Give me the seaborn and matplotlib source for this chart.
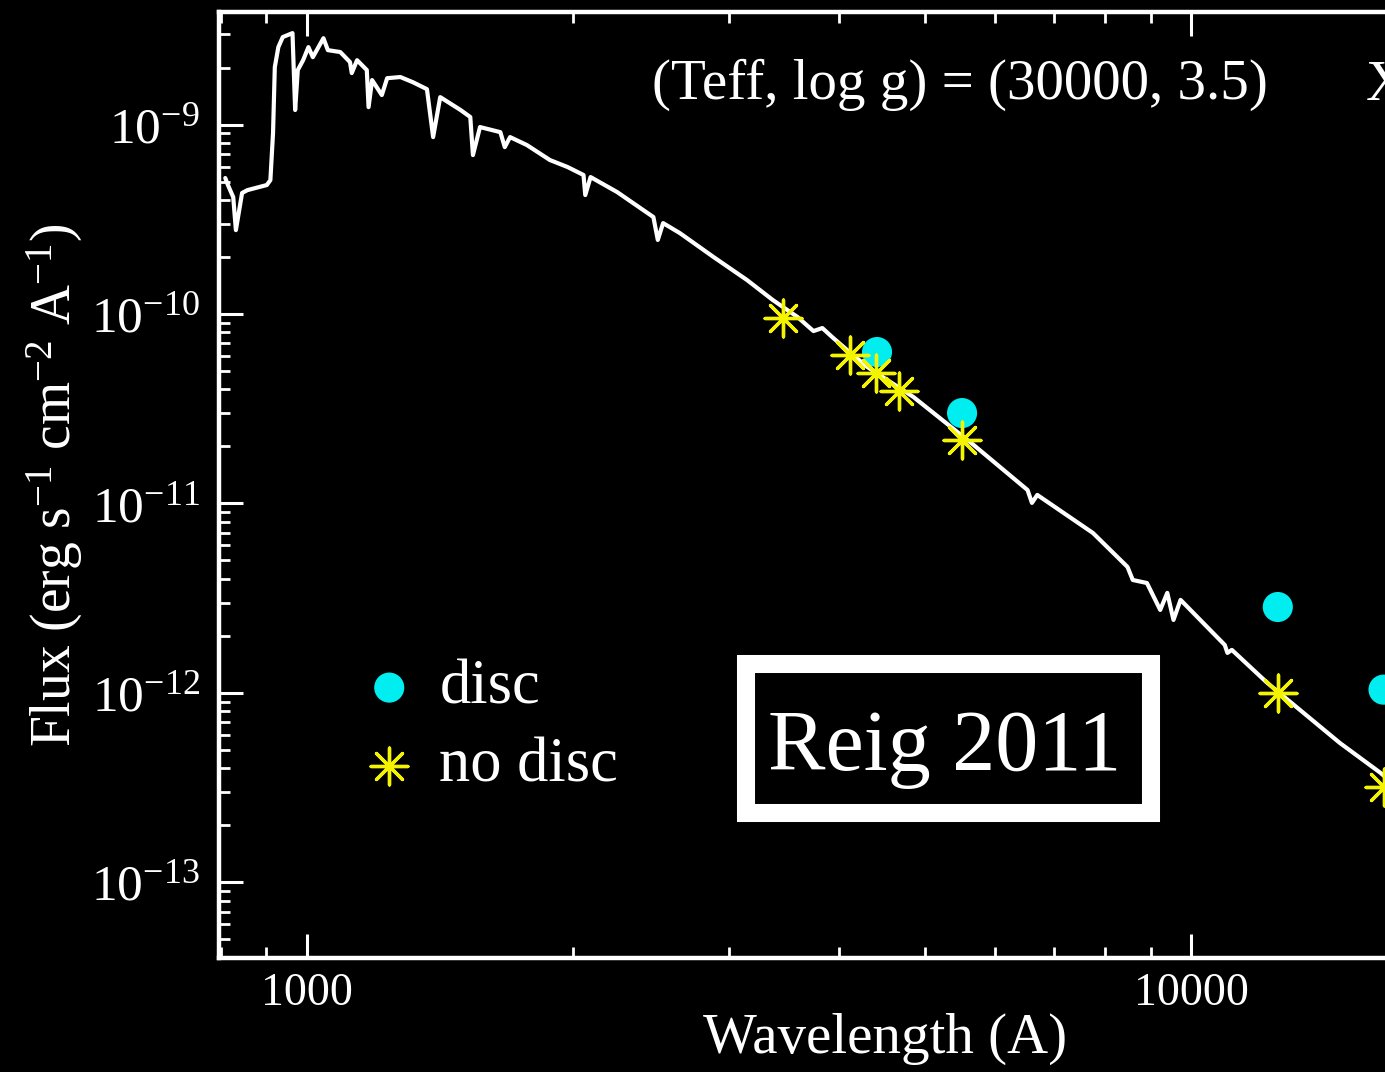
import numpy as np
import pandas as pd
import matplotlib
matplotlib.use("Agg")
import matplotlib.pyplot as plt
import seaborn as sns
from matplotlib.patches import Rectangle
from matplotlib.ticker import LogLocator, FixedLocator, FixedFormatter, NullFormatter

# Kurucz model atmosphere, Teff = 30000 K, log g = 3.5 (log10 wavelength [A], log10 flux)
model_log_wave = [2.908, 2.911, 2.917, 2.920, 2.927, 2.933, 2.955, 2.959, 2.962, 2.964,
                  2.968, 2.973, 2.984, 2.987, 2.990, 2.996, 3.002, 3.007, 3.019, 3.024,
                  3.038, 3.049, 3.051, 3.057, 3.068, 3.070, 3.074, 3.085, 3.091, 3.106,
                  3.120, 3.136, 3.143, 3.151, 3.174, 3.185, 3.188, 3.196, 3.219, 3.224,
                  3.230, 3.249, 3.275, 3.295, 3.313, 3.315, 3.321, 3.351, 3.369, 3.392,
                  3.397, 3.403, 3.422, 3.460, 3.498, 3.527, 3.555, 3.573, 3.583, 3.594,
                  3.611, 3.634, 3.686, 3.754, 3.815, 3.820, 3.826, 3.889, 3.928, 3.934,
                  3.950, 3.965, 3.973, 3.980, 3.988, 4.038, 4.041, 4.046, 4.086, 4.123,
                  4.168, 4.214, 4.236]
model_log_flux = [-9.282, -9.319, -9.383, -9.557, -9.361, -9.346, -9.319, -9.293, -9.045, -8.697,
                  -8.591, -8.538, -8.517, -8.923, -8.712, -8.660, -8.591, -8.644, -8.544, -8.607,
                  -8.617, -8.670, -8.728, -8.660, -8.712, -8.908, -8.765, -8.844, -8.755, -8.749,
                  -8.776, -8.813, -9.066, -8.855, -8.923, -8.960, -9.161, -9.013, -9.040, -9.119,
                  -9.066, -9.108, -9.187, -9.224, -9.266, -9.372, -9.277, -9.356, -9.414, -9.488,
                  -9.609, -9.520, -9.573, -9.699, -9.821, -9.926, -10.016, -10.090, -10.074, -10.121,
                  -10.190, -10.280, -10.438, -10.691, -10.929, -10.997, -10.955, -11.156, -11.335, -11.404,
                  -11.420, -11.562, -11.472, -11.615, -11.509, -11.747, -11.789, -11.773, -11.947, -12.090,
                  -12.264, -12.422, -12.512]

# Photometry (wavelength [A], flux [erg s-1 cm-2 A-1])
disc_wave = [4414, 5508, 12530, 16500]
disc_flux = [6.3e-11, 3.0e-11, 2.84e-12, 1.04e-12]
nodisc_wave = [3457, 4117, 4404, 4677, 5508, 12530, 16500]
nodisc_flux = [9.5e-11, 6.1e-11, 4.9e-11, 3.9e-11, 2.17e-11, 1.0e-12, 3.2e-13]

x_ticks = [1000, 10000]
x_ticklabels = ["1000", "10000"]

model = pd.DataFrame({"wave": 10 ** np.array(model_log_wave),
                      "flux": 10 ** np.array(model_log_flux)})
disc = pd.DataFrame({"wave": disc_wave, "flux": disc_flux})
nodisc = pd.DataFrame({"wave": nodisc_wave, "flux": nodisc_flux})

sns.set_style("ticks")
plt.rcParams["font.family"] = ["Liberation Serif", "DejaVu Serif"]
plt.rcParams["mathtext.fontset"] = "custom"
plt.rcParams["mathtext.rm"] = "Liberation Serif"
plt.rcParams["mathtext.it"] = "Liberation Serif:italic"
plt.rcParams["mathtext.bf"] = "Liberation Serif:bold"

W, H = 1385, 1072
fig = plt.figure(figsize=(W / 100, H / 100), dpi=100, facecolor="black")
ax = fig.add_axes([219 / W, 1 - 957.7 / H, (1395 - 219) / W, (957.7 - 12) / H])
ax.set_facecolor("black")

sns.lineplot(data=model, x="wave", y="flux", ax=ax, color="white", lw=3.0,
             sort=False, estimator=None, zorder=2)
sns.scatterplot(data=disc, x="wave", y="flux", ax=ax, color="#00EEF0", s=470,
                edgecolor="none", marker="o", label="disc", zorder=3)
sns.scatterplot(data=nodisc, x="wave", y="flux", ax=ax, color="#F4F400", s=700,
                marker=(8, 2, 0), linewidth=2.4, label="no disc", zorder=4)

ax.set_xscale("log")
ax.set_yscale("log")
ax.set_xlim(796, 17000)
ax.set_ylim(4.0e-14, 3.93e-9)

ax.xaxis.set_major_locator(FixedLocator(x_ticks))
ax.xaxis.set_major_formatter(FixedFormatter(x_ticklabels))
ax.xaxis.set_minor_locator(LogLocator(base=10, subs=np.arange(2, 10)))
ax.xaxis.set_minor_formatter(NullFormatter())
ax.yaxis.set_major_locator(LogLocator(base=10, numticks=20))
ax.yaxis.set_minor_locator(LogLocator(base=10, subs=np.arange(2, 10), numticks=20))
ax.yaxis.set_minor_formatter(NullFormatter())

for sp in ax.spines.values():
    sp.set_color("white")
    sp.set_linewidth(3.2)
ax.tick_params(which="both", direction="in", color="white", labelcolor="white",
               top=True, right=False)
ax.tick_params(which="major", length=17, width=2.2)
ax.tick_params(which="minor", length=8, width=2.0)
ax.tick_params(axis="x", which="major", labelsize=33, pad=11)
ax.tick_params(axis="y", which="major", labelsize=37, pad=14)

ax.set_xlabel("Wavelength (A)", color="white", fontsize=41)
ax.set_ylabel(r"Flux (erg s$^{-1}$ cm$^{-2}$ A$^{-1}$)", color="white", fontsize=40)
ax.xaxis.set_label_coords(0.566, -0.058)
ax.yaxis.set_label_coords(-0.114, 0.50)

ax.text(0.368, 0.9228, "(Teff, log g) = (30000, 3.5)", transform=ax.transAxes,
        color="white", fontsize=41, va="center", ha="left")
ax.text(0.975, 0.9228, "X Per", transform=ax.transAxes,
        color="white", fontsize=41, va="center", ha="left")

leg = ax.legend(loc="center left",
                bbox_to_anchor=((358 - 219) / 1176, (957.7 - 728) / 945.7),
                frameon=False, fontsize=45, handlelength=1.0, handletextpad=0.3,
                borderpad=0, borderaxespad=0, labelspacing=0.32, labelcolor="white")

# citation box
fig.add_artist(Rectangle((746 / W, 1 - 813 / H), (1151 - 746) / W, (813 - 664) / H,
                         transform=fig.transFigure, facecolor="black", edgecolor="white",
                         lw=13, joinstyle="miter", zorder=10))
fig.text(945 / W, 1 - 770 / H, "Reig 2011", color="white", fontsize=62,
         ha="center", va="baseline", zorder=11)

fig.savefig("out.png", dpi=100, facecolor="black")
